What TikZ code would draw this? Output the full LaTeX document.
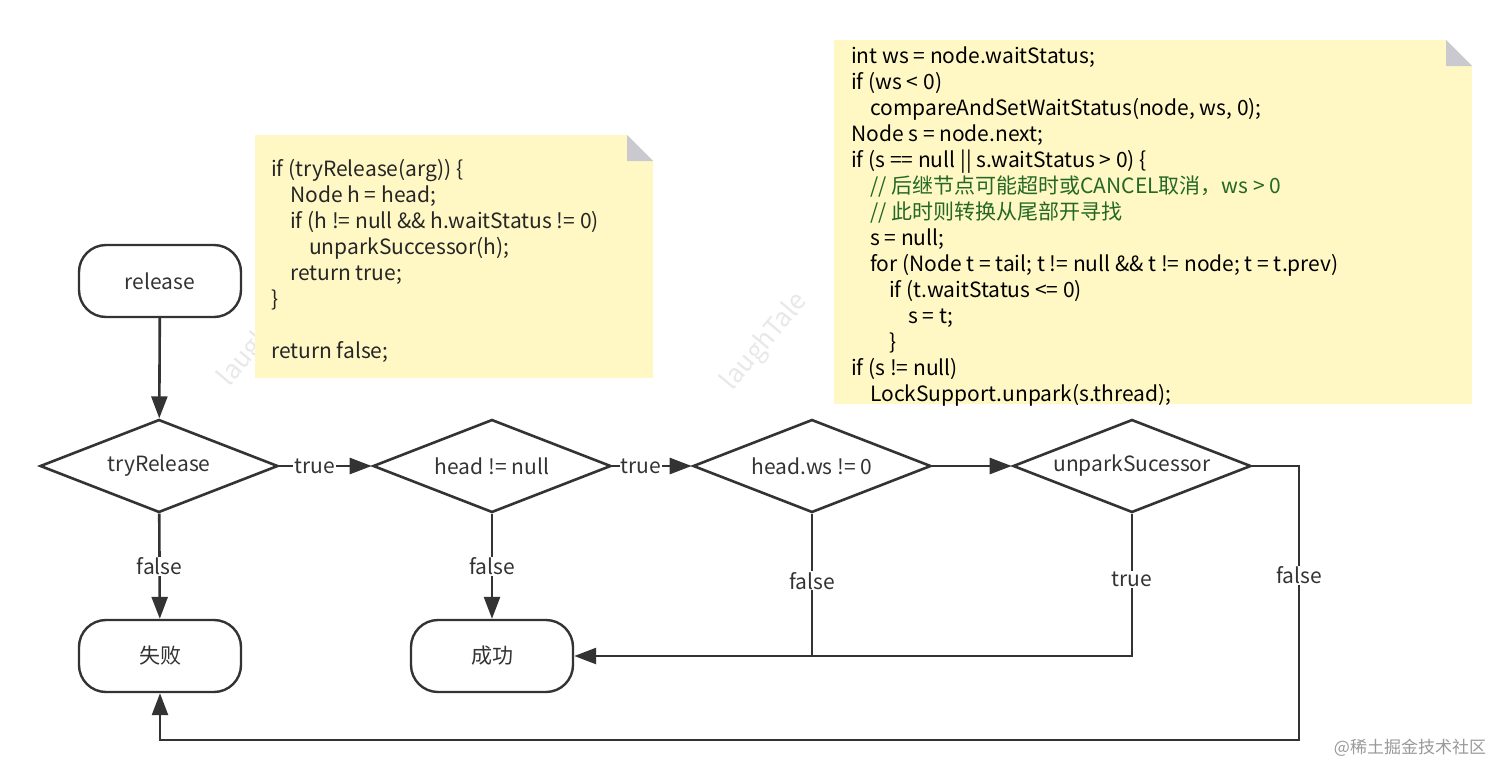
\documentclass[tikz,border=0pt]{standalone}
\usepackage{fontspec}
\setmainfont{Noto Sans CJK SC}
\usetikzlibrary{shapes.geometric,arrows.meta}
\definecolor{notefill}{HTML}{FFF8C5}
\definecolor{foldgray}{HTML}{C9C9CF}
\definecolor{linegray}{HTML}{333333}
\definecolor{codegreen}{HTML}{2B7A2B}
\tikzset{
  term/.style={draw=linegray, line width=2.4pt, rounded corners=27pt, minimum width=162pt, minimum height=72pt, font=\fontsize{21}{24}\selectfont, text=linegray},
  decide/.style={diamond, draw=linegray, line width=2.6pt, aspect=2.56, minimum width=238pt, minimum height=93pt, inner sep=0pt, font=\fontsize{21}{24}\selectfont, text=linegray},
  flow/.style={draw=linegray, line width=2.6pt, -{Triangle[length=22pt,width=16pt]}},
  plain/.style={draw=linegray, line width=2.6pt},
  cond/.style={fill=white, inner sep=1pt, font=\fontsize{21}{24}\selectfont, text=linegray},
  codeline/.style={anchor=base west, inner sep=0pt, font=\fontsize{21}{22}\selectfont},
  wmark/.style={rotate=50, text=black!9, font=\fontsize{26}{28}\selectfont},
}
\begin{document}
\begin{tikzpicture}[x=1pt, y=-1pt]
\useasboundingbox (0,0) rectangle (1512,782);
% watermarks
\node[wmark] (wm0) at (262,338) {laughTale};
\node[wmark] (wm1) at (765,342) {laughTale};
\node[text=black!40, font=\fontsize{17}{20}\selectfont] (site) at (1410,748) {@稀土掘金技术社区};
% notes
\fill[notefill] (255,135) -- (627,135) -- (653,161) -- (653,378) -- (255,378) -- cycle;
\fill[foldgray] (627,135) -- (653,161) -- (627,161) -- cycle;
\fill[notefill] (834,40) -- (1446,40) -- (1472,66) -- (1472,404) -- (834,404) -- cycle;
\fill[foldgray] (1446,40) -- (1472,66) -- (1446,66) -- cycle;
\foreach \i/\ind/\txt in {0/0/{if (tryRelease(arg)) \{}, 1/1/{Node h = head;},
  2/1/{if (h != null \&\& h.waitStatus != 0)}, 3/2/{unparkSuccessor(h);},
  4/1/{return true;}, 5/0/{\}}, 7/0/{return false;}}
  \node[codeline, text=black!85] (codeA-\i) at ({271+19*\ind}, {176+26*\i}) {\txt};
\foreach \i/\ind/\col/\txt in {0/0/black/{int ws = node.waitStatus;}, 1/0/black/{if (ws < 0)},
  2/1/black/{compareAndSetWaitStatus(node, ws, 0);}, 3/0/black/{Node s = node.next;},
  4/0/black/{if (s == null || s.waitStatus > 0) \{},
  5/1/codegreen/{// 后继节点可能超时或CANCEL取消，ws > 0},
  6/1/codegreen/{// 此时则转换从尾部开寻找},
  7/1/black/{s = null;}, 8/1/black/{for (Node t = tail; t != null \&\& t != node; t = t.prev)},
  9/2/black/{if (t.waitStatus <= 0)}, 10/3/black/{s = t;}, 11/2/black/{\}},
  12/0/black/{if (s != null)}, 13/1/black/{LockSupport.unpark(s.thread);}}
  \node[codeline, text=\col!85!black] (codeB-\i) at ({851+19*\ind}, {63+26*\i}) {\txt};
% flow chart
\node[term] (release) at (160,281) {release};
\node[decide] (tryrel) at (159,466) {tryRelease};
\node[decide] (headnull) at (492,466) {head != null};
\node[decide] (headws) at (812,466) {head.ws != 0};
\node[decide] (unpark) at (1132,466) {unparkSucessor};
\node[term] (fail) at (160,656) {失败};
\node[term] (succ) at (492,656) {成功};
\coordinate (join) at (headws.south |- succ.east);
\coordinate (loopr) at (1299,740);
\draw[flow] (release) -- (tryrel);
\draw[flow] (tryrel) -- node[cond, pos=0.38] {true} (headnull);
\draw[flow] (headnull) -- node[cond, pos=0.36] {true} (headws);
\draw[flow] (headws) -- (unpark);
\draw[flow] (tryrel) -- node[cond] {false} (fail);
\draw[flow] (headnull) -- node[cond] {false} (succ);
\draw[flow] (headws.south) -- node[cond, pos=0.47] {false} (join) -- (succ.east);
\draw[plain] (unpark.south) |- node[cond, pos=0.23] {true} (join);
\draw[flow] (unpark.east) -| node[cond, pos=0.7] {false} (loopr) -| (fail.south);
\end{tikzpicture}
\end{document}
